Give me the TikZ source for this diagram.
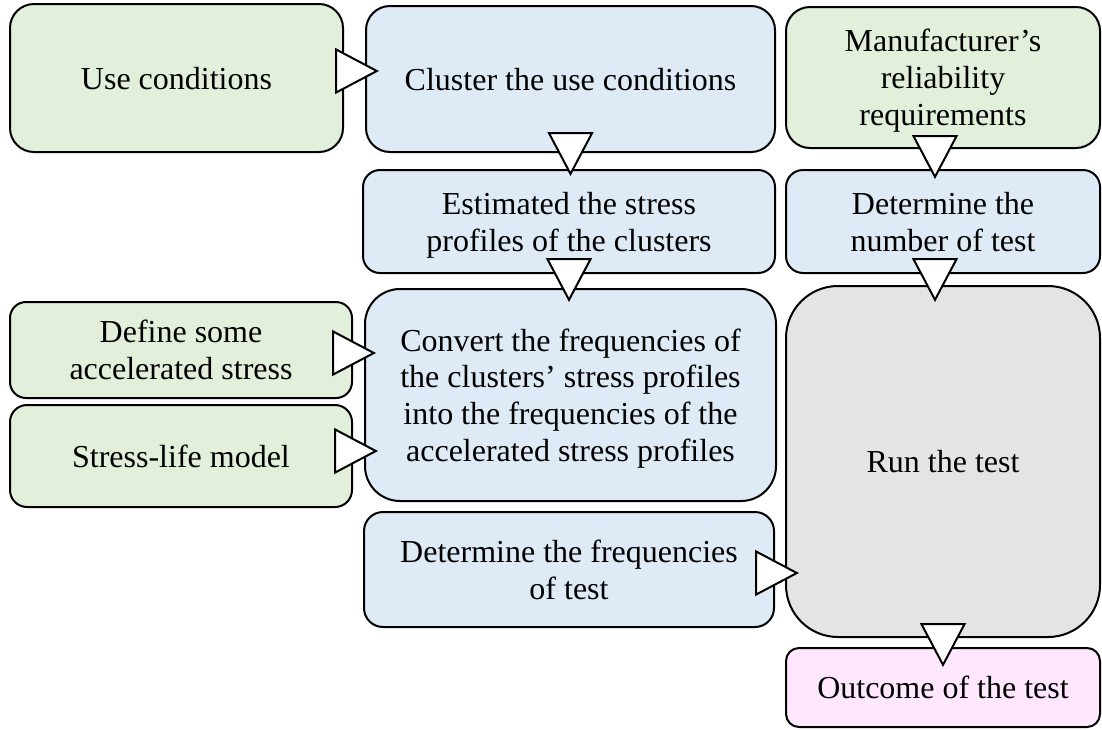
\documentclass[tikz,border=0pt]{standalone}
\usepackage{fontspec}
\setmainfont{Liberation Serif}
\usetikzlibrary{arrows.meta}

\definecolor{inputgreen}{HTML}{E2EFDA}
\definecolor{stepblue}{HTML}{DEEBF7}
\definecolor{rungray}{HTML}{E4E4E4}
\definecolor{outpink}{HTML}{FFE8FF}

\begin{document}
\begin{tikzpicture}[x=0.5pt, y=-0.5pt, >={Triangle[length=22pt, width=23pt, fill=white]}]
  % Set the box styles
  \tikzset{stepbox/.style={draw, line width=1pt, align=center, inner sep=0pt,
      font=\fontsize{16}{18.4}\selectfont, text depth=0pt},
    inbox/.style={stepbox, fill=inputgreen},
    procbox/.style={stepbox, fill=stepblue},
    flow/.style={->, line width=1pt}}

  \useasboundingbox (0,0) rectangle (1102,729);

  % Draw the input boxes
  \node[inbox, minimum width=166.5pt, minimum height=74pt, rounded corners=12pt] (use) at (176.5,78) {Use conditions};
  \node[inbox, minimum width=157pt, minimum height=70.5pt, rounded corners=12pt] (manuf) at (943,77.5) {Manufacturer’s\\reliability\\requirements};
  \node[inbox, minimum width=171pt, minimum height=48pt, rounded corners=8pt] (define) at (181,350) {Define some\\accelerated stress};
  \node[inbox, minimum width=171pt, minimum height=51pt, rounded corners=8.5pt] (slmodel) at (181,456) {Stress-life model};

  % Draw the process boxes
  \node[procbox, minimum width=204.5pt, minimum height=73pt, rounded corners=12pt] (cluster) at (570.5,79) {Cluster the use conditions};
  \node[procbox, minimum width=206pt, minimum height=51.5pt, rounded corners=8.5pt] (estim) at (569,221.5) {Estimated the stress\\profiles of the clusters};
  \node[procbox, minimum width=157pt, minimum height=51.5pt, rounded corners=8.5pt] (detnum) at (943,221.5) {Determine the\\number of test};
  \node[procbox, minimum width=205.5pt, minimum height=106pt, rounded corners=17.5pt] (convert) at (570.5,395) {Convert the frequencies of\\the clusters’ stress profiles\\into the frequencies of the\\accelerated stress profiles};
  \node[procbox, minimum width=205pt, minimum height=57.5pt, rounded corners=9.5pt] (detfreq) at (569,569.5) {Determine the frequencies\\of test};

  % Draw the test and outcome boxes
  \node[stepbox, fill=rungray, minimum width=157pt, minimum height=175.5pt, rounded corners=26pt] (runtest) at (943,461.5) {Run the test};
  \node[stepbox, fill=outpink, minimum width=157pt, minimum height=39.5pt, rounded corners=6.5pt] (outcome) at (943,687.5) {Outcome of the test};

  % Connect the boxes
  \draw[flow, shorten >=-7pt] ([yshift=3.5pt]use.east) -- ([yshift=3.5pt]use.east -| cluster.west);
  \draw[flow, shorten >=-3.5pt] (cluster.south) -- (cluster.south |- estim.north);
  \draw[flow, shorten >=-7pt] (estim.south) -- (estim.south |- convert.north);
  \draw[flow, shorten >=-5pt] ([xshift=-4pt]manuf.south) -- ([xshift=-4pt]manuf.south |- detnum.north);
  \draw[flow, shorten >=-8.5pt] ([xshift=-4pt]detnum.south) -- ([xshift=-4pt]detnum.south |- runtest.north);
  \draw[flow, shorten >=-10pt] (runtest.south) -- (outcome.north);
  \draw[flow, shorten >=-6pt] ([yshift=-1.5pt]define.east) -- ([yshift=-1.5pt]define.east -| convert.west);
  \draw[flow, shorten >=-7pt] ([yshift=2.5pt]slmodel.east) -- ([yshift=2.5pt]slmodel.east -| convert.west);
  \draw[flow, shorten >=-7pt] ([yshift=-1.75pt]detfreq.east) -- ([yshift=-1.75pt]detfreq.east -| runtest.west);
\end{tikzpicture}
\end{document}
